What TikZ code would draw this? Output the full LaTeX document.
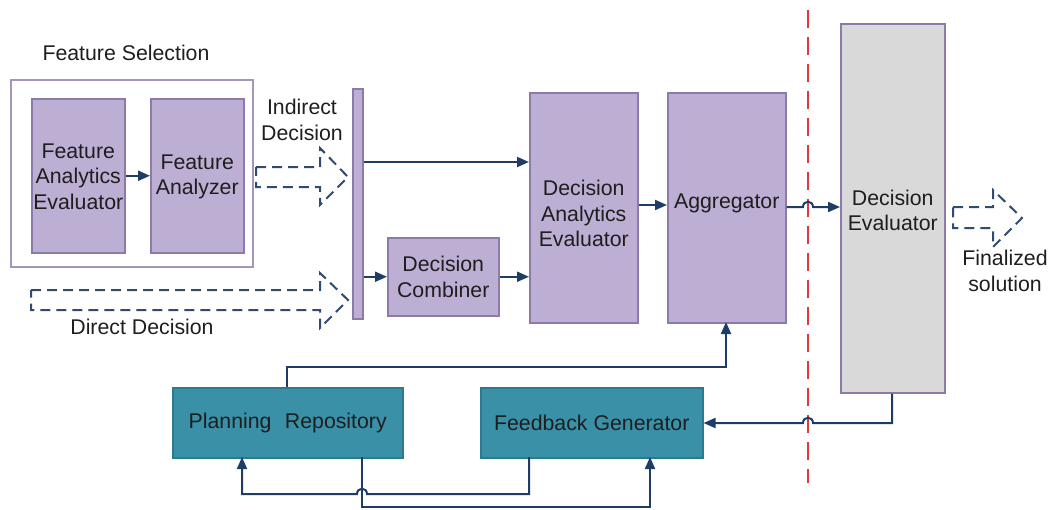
\documentclass[tikz,border=0pt]{standalone}
\usepackage{fontspec}
\setmainfont{Liberation Sans}
\usetikzlibrary{arrows.meta,calc}
\definecolor{lav}{HTML}{BDAED4}
\definecolor{lavedge}{HTML}{8C7BAA}
\definecolor{tealfill}{HTML}{3990A7}
\definecolor{tealedge}{HTML}{2C7A8F}
\definecolor{greyfill}{HTML}{D9D9D9}
\definecolor{navy}{HTML}{1F3C66}
\definecolor{dashnavy}{HTML}{2E4B73}
\definecolor{cutred}{HTML}{E2373F}
\definecolor{ink}{HTML}{1E1E1E}
\tikzset{
  lbl/.style={font=\fontsize{21.3}{25.5}\selectfont, text=ink, align=center, inner sep=0pt},
  pbox/.style={lbl, draw=lavedge, fill=lav, line width=1.5pt, anchor=north west},
  tbox/.style={lbl, draw=tealedge, fill=tealfill, line width=1.5pt, anchor=north west},
  gbox/.style={lbl, draw=lavedge, fill=greyfill, line width=1.5pt, anchor=north west},
  conn/.style={draw=navy, line width=2pt, -{Triangle[length=12pt,width=10pt]}},
  hollow/.style={draw=dashnavy, line width=2pt, dash pattern=on 10pt off 6pt},
}
\begin{document}
\begin{tikzpicture}[x=1pt,y=-1pt]
\useasboundingbox (0,0) rectangle (1050,509);

% feature selection group
\node[lbl] (fstitle) at (126,53) {Feature Selection};
\node[draw=lavedge!80, line width=2pt, fill=white, minimum width=242pt, minimum height=187pt, anchor=north west, inner sep=0pt] (fs) at (10,79) {};
\node[pbox, minimum width=93pt, minimum height=154pt] (fae) at (31,98) {};
\node[lbl] at ($(fae.center)+(0,1)$) {Feature\\Analytics\\Evaluator};
\node[pbox, minimum width=93pt, minimum height=154pt] (fa) at (150,98) {};
\node[lbl] at ($(fa.center)+(0,1)$) {Feature\\Analyzer};
\draw[conn] (fae.east) -- (fa.west);

% collector bar
\node[draw=lavedge, fill=lav, line width=1.5pt, minimum width=10pt, minimum height=230pt, anchor=north west, inner sep=0pt] (bar) at (352,88) {};

% hollow dashed arrows
\node[lbl] (indlbl) at (302,120) {Indirect\\Decision};
\draw[hollow] (256,167) -- (320,167) -- (320,148) -- (348,177) -- (320,205) -- (320,187) -- (256,187) -- cycle;
\draw[hollow] (31,290) -- (320,290) -- (320,273) -- (348,300) -- (320,328) -- (320,310) -- (31,310) -- cycle;
\node[lbl] (dirlbl) at (142,327) {Direct Decision};

% decision stage
\node[pbox, minimum width=108pt, minimum height=230pt] (dae) at (529,92) {};
\node[lbl] at ($(dae.center)+(0,6)$) {Decision\\Analytics\\Evaluator};
\node[pbox, minimum width=111pt, minimum height=78pt] (dc) at (387,237) {Decision\\Combiner};
\node[pbox, minimum width=118pt, minimum height=230pt] (ag) at (667,92) {};
\node[lbl] at ($(ag.center)+(0,-4)$) {Aggregator};
\node[gbox, minimum width=104pt, minimum height=369pt] (de) at (840,23) {};
\node[lbl] at ($(de.center)+(0,2)$) {Decision\\Evaluator};

\draw[conn] (bar.east |- 0,162) -- (dae.west |- 0,162);
\draw[conn] (bar.east |- dc.west) -- (dc.west);
\draw[conn] (dc.east) -- (dae.west |- dc.east);
\draw[conn] (dae.east |- 0,205) -- (ag.west |- 0,205);

% boundary line
\coordinate (rtop) at (808,10);
\coordinate (rbot) at (808,483);
\draw[cutred, line width=2pt, dash pattern=on 18pt off 9pt] (rtop) -- (rbot);

\draw[conn] (ag.east |- 0,207) -- (803,207) .. controls (803,200) and (813,200) .. (813,207) -- (de.west |- 0,207);

% output arrow
\draw[hollow] (953,207) -- (993,207) -- (993,190) -- (1022,218) -- (993,247) -- (993,228) -- (953,228) -- cycle;
\node[lbl] (finlbl) at (1005,271) {Finalized\\solution};

% feedback loop
\node[tbox, minimum width=230pt, minimum height=70pt] (pr) at (172,387) {Planning\hspace{0.35em} Repository};
\node[tbox, minimum width=222pt, minimum height=70pt] (fg) at (480,387) {Feedback Generator};

\draw[conn] (287,387) -- (287,367) -- (726,367) -- (726,322);
\draw[conn] (de.south -| 892,0) -- (892,423) -- (813,423) .. controls (813,416) and (803,416) .. (803,423) -- (fg.east |- 0,423);
\draw[conn] (529,457) -- (529,494) -- (367,494) .. controls (367,487) and (357,487) .. (357,494) -- (242,494) -- (242,457);
\draw[conn] (362,457) -- (362,507) -- (650,507) -- (650,457);
\end{tikzpicture}
\end{document}
